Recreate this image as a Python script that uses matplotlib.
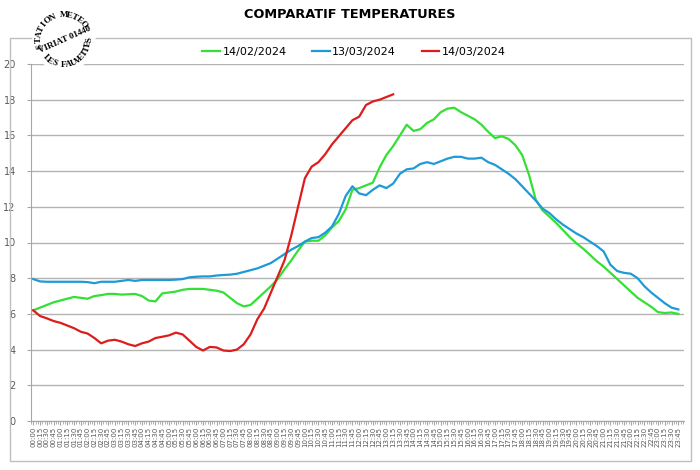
import numpy as np
import matplotlib
matplotlib.use('Agg')
import matplotlib.pyplot as plt
from matplotlib.patches import Rectangle, Ellipse

# heures toutes les 15 minutes
heures = ['%02d:%02d' % (h, m) for h in range(24) for m in (0, 15, 30, 45)]

# 14/02/2024
t_1402 = [6.2, 6.35, 6.5, 6.65, 6.75, 6.85, 6.95, 6.9, 6.85, 7.0, 7.05, 7.12,
          7.12, 7.08, 7.1, 7.12, 7.0, 6.75, 6.7, 7.15, 7.2, 7.25, 7.35, 7.4,
          7.4, 7.4, 7.35, 7.3, 7.2, 6.9, 6.6, 6.42, 6.5, 6.85, 7.2, 7.55,
          7.95, 8.5, 9.0, 9.55, 10.05, 10.1, 10.1, 10.4, 10.85, 11.2, 11.85, 12.95,
          13.05, 13.2, 13.35, 14.2, 14.9, 15.4, 16.0, 16.6, 16.25, 16.35, 16.7, 16.9,
          17.3, 17.5, 17.55, 17.3, 17.1, 16.9, 16.6, 16.2, 15.85, 15.95, 15.8, 15.45,
          14.9, 13.8, 12.4, 11.8, 11.45, 11.1, 10.7, 10.3, 9.95, 9.65, 9.3, 8.95,
          8.65, 8.3, 7.95, 7.6, 7.25, 6.9, 6.65, 6.4, 6.1, 6.05, 6.08, 6.0]

# 13/03/2024
t_1303 = [7.95, 7.82, 7.8, 7.8, 7.8, 7.8, 7.8, 7.8, 7.78, 7.72, 7.8, 7.8,
          7.8, 7.85, 7.9, 7.85, 7.9, 7.9, 7.9, 7.9, 7.9, 7.92, 7.95, 8.05,
          8.08, 8.1, 8.1, 8.15, 8.18, 8.2, 8.25, 8.35, 8.45, 8.55, 8.7, 8.85,
          9.1, 9.35, 9.6, 9.8, 10.05, 10.25, 10.3, 10.55, 10.9, 11.6, 12.6, 13.15,
          12.75, 12.65, 12.95, 13.2, 13.05, 13.3, 13.85, 14.1, 14.15, 14.4, 14.5, 14.4,
          14.55, 14.7, 14.8, 14.8, 14.7, 14.7, 14.75, 14.5, 14.35, 14.1, 13.85, 13.55,
          13.15, 12.75, 12.35, 11.9, 11.65, 11.3, 11.0, 10.75, 10.5, 10.3, 10.05, 9.8,
          9.5, 8.75, 8.4, 8.3, 8.25, 8.0, 7.55, 7.2, 6.9, 6.6, 6.35, 6.25]

# 14/03/2024 (jusqu'a 13:15)
t_1403 = [6.2, 5.88, 5.75, 5.6, 5.5, 5.35, 5.2, 5.0, 4.9, 4.65, 4.35, 4.5,
          4.55, 4.45, 4.3, 4.2, 4.35, 4.45, 4.65, 4.72, 4.8, 4.95, 4.85, 4.5,
          4.15, 3.95, 4.15, 4.12, 3.95, 3.92, 4.0, 4.3, 4.85, 5.7, 6.3, 7.2,
          8.1, 9.0, 10.4, 12.0, 13.6, 14.25, 14.5, 14.95, 15.5, 15.95, 16.4, 16.85,
          17.05, 17.7, 17.9, 18.0, 18.15, 18.3]

W, H = 700, 470
fig = plt.figure(figsize=(7, 4.7), dpi=100)

def fx(px):
    return px / W

def fy(py):
    return 1 - py / H

# cadre exterieur
fig.patches.append(Rectangle((fx(10), fy(461)), fx(681), 423 / H, transform=fig.transFigure,
                             fill=False, edgecolor='#bfbfbf', lw=1))

ax = fig.add_axes([fx(31), fy(421), fx(684) - fx(31), fy(64) - fy(421)])
x = np.arange(len(heures))
ax.plot(x, t_1402, color='#33e033', lw=1.6, label='14/02/2024')
ax.plot(x, t_1303, color='#1e9ad6', lw=1.6, label='13/03/2024')
ax.plot(np.arange(len(t_1403)), t_1403, color='#dd1c1c', lw=1.6, label='14/03/2024')

ax.set_ylim(0, 20)
ax.set_yticks(range(0, 21, 2))
ax.set_xlim(-2.5 / 15, 1437.5 / 15)
ax.set_xticks(x)
ax.set_xticklabels(heures, rotation=90, fontsize=5, color='#595959')
ax.set_xticks(np.arange(-1 / 3, 96, 1 / 3), minor=True)
ax.tick_params(axis='x', which='major', length=3, color='#a6a6a6', pad=1)
ax.tick_params(axis='x', which='minor', length=2, color='#a6a6a6')
ax.tick_params(axis='y', labelsize=7, labelcolor='#595959', length=3, color='#a6a6a6', pad=8)
ax.grid(axis='y', color='#b3b3b3', lw=1)
ax.set_axisbelow(True)
for s in ['top', 'right']:
    ax.spines[s].set_visible(False)
for s in ['left', 'bottom']:
    ax.spines[s].set_color('#a6a6a6')

fig.text(0.5, fy(14), 'COMPARATIF TEMPERATURES', ha='center', va='center',
         fontsize=9.3, fontweight='bold')
fig.legend(loc='center', bbox_to_anchor=(fx(354), fy(52)), ncol=3, frameon=False,
           fontsize=8, handlelength=1.6, handletextpad=0.2, columnspacing=2.3)

# tampon "STATION METEO"
cx, cy, r = 64, 40, 25
fig.patches.append(Ellipse((fx(cx), fy(cy)), 62 / W, 62 / H, transform=fig.transFigure,
                           color='white', zorder=2))
font = dict(family='Liberation Serif', fontweight='bold', fontsize=6.5, zorder=3,
            ha='center', va='center', rotation_mode='anchor')
haut = 'STATION METEO'
for i, ch in enumerate(haut):
    a = 193 - i * (154 / (len(haut) - 1))
    ar = np.radians(a)
    fig.text(fx(cx + r * np.cos(ar)), fy(cy - r * np.sin(ar)), ch, rotation=a - 90, **font)
bas = 'LES FAUVETTES'
for i, ch in enumerate(bas):
    a = 224 + i * (138 / (len(bas) - 1))
    ar = np.radians(a)
    fig.text(fx(cx + r * np.cos(ar)), fy(cy - r * np.sin(ar)), ch, rotation=a + 90, **font)
fig.text(fx(65), fy(40), 'VIRIAT 01440', rotation=24, **font)

fig.savefig('out.png', dpi=100)
